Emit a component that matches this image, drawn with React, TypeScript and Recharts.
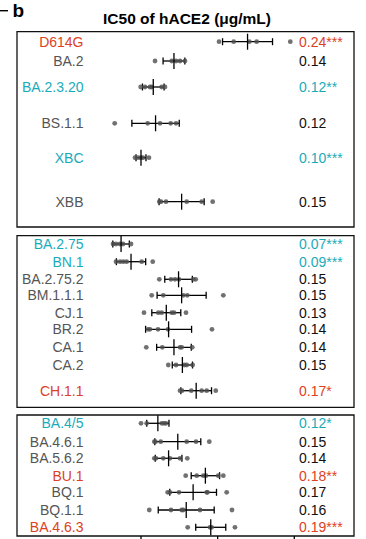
import React from 'react';
import { ScatterChart, Scatter, XAxis, YAxis, ErrorBar, ReferenceArea } from 'recharts';

// ---------------- DATA ----------------
const variants = [
  'D614G', 'BA.2', 'BA.2.3.20', 'BS.1.1', 'XBC', 'XBB',
  'BA.2.75', 'BN.1', 'BA.2.75.2', 'BM.1.1.1', 'CJ.1', 'BR.2', 'CA.1', 'CA.2', 'CH.1.1',
  'BA.4/5', 'BA.4.6.1', 'BA.5.6.2', 'BU.1', 'BQ.1', 'BQ.1.1', 'BA.4.6.3',
];

const meanIC50 = [
  0.239, 0.143, 0.116, 0.119, 0.100, 0.153,
  0.074, 0.087, 0.149, 0.153, 0.133, 0.136, 0.143, 0.154, 0.172,
  0.122, 0.148, 0.136, 0.184, 0.168, 0.159, 0.191,
];

const sdIC50 = [
  0.0326, 0.0142, 0.0141, 0.0309, 0.0065, 0.0294,
  0.0108, 0.0191, 0.018, 0.032, 0.0189, 0.030, 0.0226, 0.0132, 0.020,
  0.0145, 0.030, 0.0174, 0.0185, 0.0305, 0.0365, 0.0196,
];

const replicates = [
  [0.2018, 0.2209, 0.2413, 0.2509, 0.2948],
  [0.1183, 0.1401, 0.1457, 0.1509, 0.1574],
  [0.0996, 0.1052, 0.1117, 0.114, 0.127, 0.1313],
  [0.0657, 0.1087, 0.1248, 0.1387, 0.1457],
  [0.0922, 0.0961, 0.1, 0.1026, 0.1104],
  [0.1239, 0.1261, 0.1326, 0.1596, 0.1792, 0.1935],
  [0.0635, 0.0674, 0.0726, 0.0765, 0.087],
  [0.0674, 0.0726, 0.0769, 0.0813, 0.1009, 0.1153],
  [0.1239, 0.1391, 0.1444, 0.1496, 0.1682, 0.1714],
  [0.114, 0.1291, 0.1552, 0.1604, 0.2074],
  [0.1039, 0.1226, 0.127, 0.1401, 0.1431, 0.1587],
  [0.1091, 0.1117, 0.1222, 0.1352, 0.1926],
  [0.1069, 0.1278, 0.1509, 0.1531, 0.1669],
  [0.1356, 0.1457, 0.1565, 0.1596, 0.1674],
  [0.1509, 0.1535, 0.1656, 0.1792, 0.1857, 0.1975],
  [0.1, 0.1074, 0.127, 0.13, 0.1326],
  [0.1174, 0.1189, 0.1257, 0.1596, 0.1718, 0.1891],
  [0.1174, 0.1196, 0.1291, 0.1378, 0.1509, 0.1604],
  [0.1583, 0.1727, 0.1813, 0.1848, 0.2008, 0.2074],
  [0.1348, 0.1378, 0.1496, 0.1857, 0.1868, 0.2118],
  [0.1108, 0.1391, 0.1531, 0.1552, 0.177, 0.2187],
  [0.1609, 0.19, 0.1922, 0.2226],
];

const displayValues = [
  '0.24', '0.14', '0.12', '0.12', '0.10', '0.15',
  '0.07', '0.09', '0.15', '0.15', '0.13', '0.14', '0.14', '0.15', '0.17',
  '0.12', '0.15', '0.14', '0.18', '0.17', '0.16', '0.19',
];

const stars = [
  '***', '', '**', '', '***', '',
  '***', '***', '', '', '', '', '', '', '*',
  '*', '', '', '**', '', '', '***',
];

// 'up' = higher than reference, 'down' = lower, 'ns' = not significant
const change = [
  'up', 'ns', 'down', 'ns', 'down', 'ns',
  'down', 'down', 'ns', 'ns', 'ns', 'ns', 'ns', 'ns', 'up',
  'down', 'ns', 'ns', 'up', 'ns', 'ns', 'up',
];

const xTicks = [0.1, 0.2, 0.3];
const titleText = 'IC50 of hACE2 (μg/mL)';
const panelLabel = 'b';

// ---------------- LAYOUT ----------------
const W = 366;
const H = 539;
const rowCenters = [
  41.7, 61, 87, 123.3, 157.7, 201.7,
  244, 261.7, 279.3, 295.3, 312.7, 329.3, 347.3, 365, 390.7,
  423.3, 441.7, 458.3, 475.7, 492.3, 510, 527.3,
];
const panelBounds = [
  [31.7, 227],
  [235.7, 407.3],
  [415, 536],
];
const X_DOMAIN: [number, number] = [-0.06177, 0.37789];

const LABEL_COLORS: Record<string, string> = { up: '#dd4124', down: '#1aabbb', ns: '#555555' };
const VALUE_COLORS: Record<string, string> = { up: '#dd4124', down: '#1aabbb', ns: '#111111' };
const FONT = '"Liberation Sans", Arial, Helvetica, sans-serif';

const dotData = replicates.flatMap((vals, i) => vals.map((v) => ({ x: v, y: rowCenters[i] })));
const meanData = variants.map((name, i) => ({
  name,
  x: meanIC50[i],
  y: rowCenters[i],
  sd: sdIC50[i],
  valueText: displayValues[i] + stars[i],
  change: change[i],
}));

const Dot = (p: any) => <circle cx={p.cx} cy={p.cy} r={2.4} fill="#4d4d4d" fillOpacity={0.8} />;

const MeanRow = (p: any) => {
  const d = p.payload || {};
  return (
    <g>
      <line x1={p.cx} x2={p.cx} y1={p.cy - 8} y2={p.cy + 8} stroke="#000" strokeWidth={1.3} />
      <text x={83.5} y={p.cy} textAnchor="end" dominantBaseline="central" fontFamily={FONT} fontSize={14} fill={LABEL_COLORS[d.change]}>
        {d.name}
      </text>
      <text x={299} y={p.cy} textAnchor="start" dominantBaseline="central" fontFamily={FONT} fontSize={14} fill={VALUE_COLORS[d.change]}>
        {d.valueText}
      </text>
    </g>
  );
};

export default function App() {
  return (
    <div style={{ position: 'absolute', left: 0, top: 0, width: W, height: H, background: '#fff' }}>
      <svg width={W} height={40} style={{ position: 'absolute', left: 0, top: 0 }}>
        <line x1={0} x2={8} y1={10.7} y2={10.7} stroke="#000" strokeWidth={1.4} />
        <text x={12.5} y={17} fontFamily={FONT} fontWeight="bold" fontSize={19} fill="#000">{panelLabel}</text>
        <text x={187} y={24} textAnchor="middle" fontFamily={FONT} fontWeight="bold" fontSize={15.5} fill="#000">{titleText}</text>
      </svg>
      <div style={{ position: 'absolute', left: 0, top: 0 }}>
        <ScatterChart width={W} height={H} margin={{ top: 0, right: 12, bottom: 0, left: 17 }}>
          <XAxis
            type="number"
            dataKey="x"
            domain={X_DOMAIN}
            allowDataOverflow
            ticks={xTicks}
            interval={0}
            height={3}
            axisLine={false}
            tickLine={{ stroke: '#000', strokeWidth: 1.3 }}
            tickSize={3}
            tick={() => <g />}
          />
          <YAxis type="number" dataKey="y" domain={[0, 536]} reversed allowDataOverflow width={0} hide />
          {panelBounds.map(([top, bottom], k) => (
            <ReferenceArea
              key={k}
              x1={X_DOMAIN[0]}
              x2={X_DOMAIN[1]}
              y1={top}
              y2={bottom}
              fill="none"
              fillOpacity={0}
              stroke="#111"
              strokeWidth={1.3}
              ifOverflow="visible"
            />
          ))}
          <Scatter data={dotData} shape={Dot} isAnimationActive={false} />
          <Scatter data={meanData} shape={MeanRow} isAnimationActive={false}>
            <ErrorBar dataKey="sd" direction="x" width={3.5} stroke="#000" strokeWidth={1.3} />
          </Scatter>
        </ScatterChart>
      </div>
    </div>
  );
}
